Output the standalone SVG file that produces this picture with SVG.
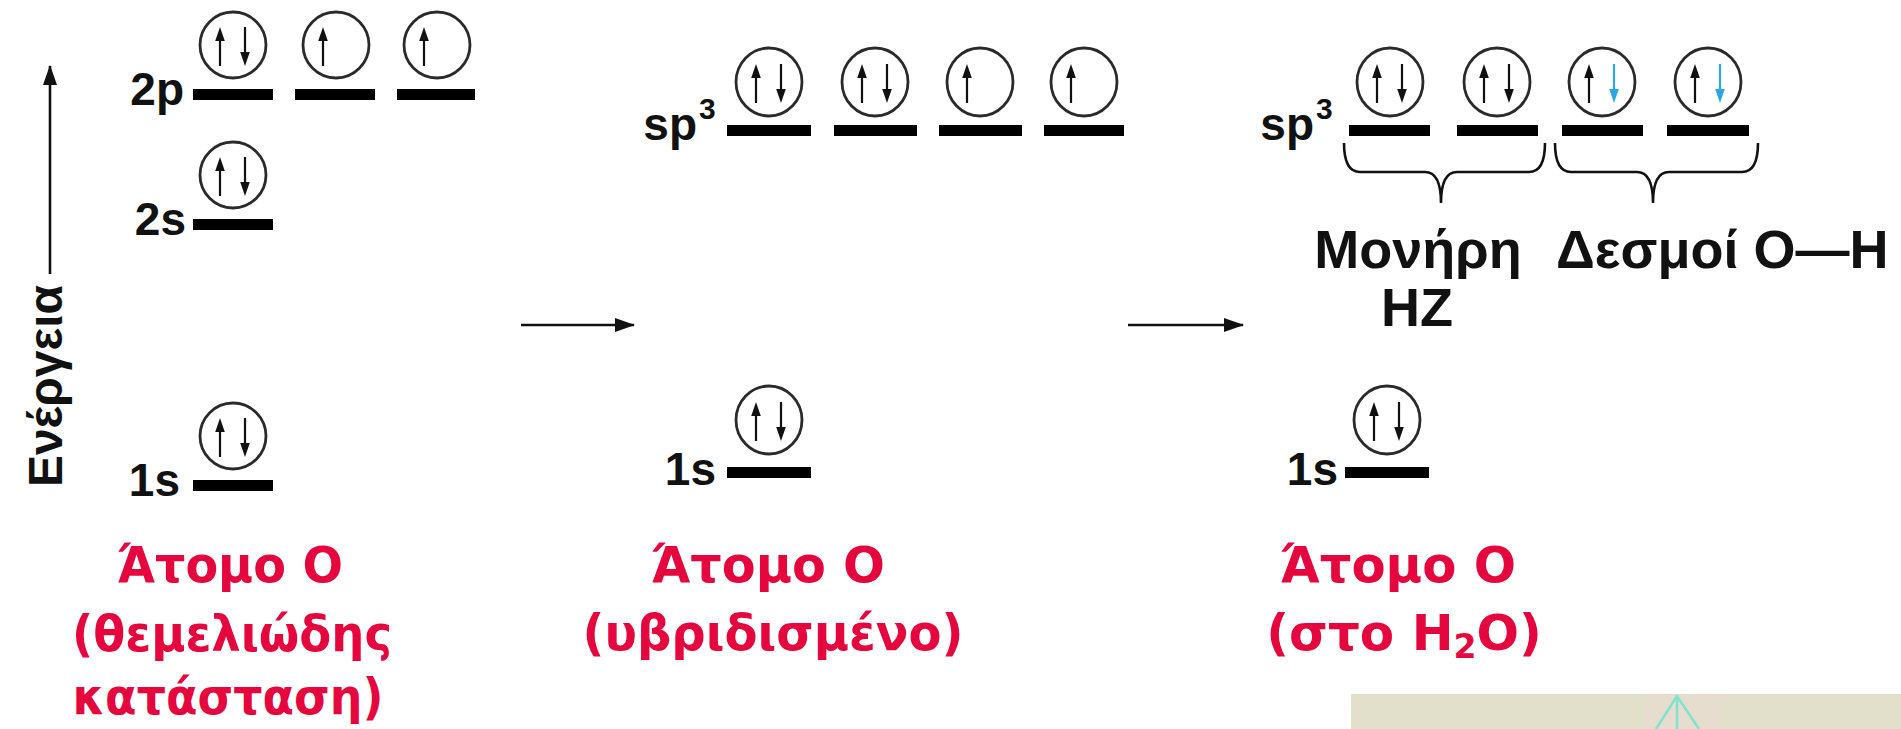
<svg xmlns="http://www.w3.org/2000/svg" xmlns:xlink="http://www.w3.org/1999/xlink" width="1901" height="729" viewBox="0 0 1901 729">
  <style>
    .lbl { font-family: "Liberation Sans", Arial, sans-serif; font-weight: bold; fill: #111; }
    .red { font-family: "DejaVu Sans", "Liberation Sans", sans-serif; font-weight: bold; fill: #E6063E; text-anchor: middle; }
    .orb { fill: none; stroke: #2a2a2a; stroke-width: 2.8; }
    .lvl { fill: #000; }
    .brace { fill: none; stroke: #111; stroke-width: 2.6; }
    .flow { stroke: #111; stroke-width: 2.6; fill: none; }
  </style>
  <defs>
    <marker id="tip" viewBox="0 0 20 14" refX="19" refY="7" markerWidth="20" markerHeight="14" orient="auto" markerUnits="userSpaceOnUse">
      <path d="M0,0 L20,7 L0,14 z" fill="#111"/>
    </marker>
    <!-- electron spin arrows, drawn relative to the orbital centre -->
    <g id="up">
      <line x1="0" y1="21" x2="0" y2="-6" stroke="#111" stroke-width="2.2"/>
      <polygon points="0,-18 -4.8,-4 4.8,-4" fill="#111"/>
    </g>
    <g id="down">
      <line x1="0" y1="-18" x2="0" y2="9" stroke="#111" stroke-width="2.2"/>
      <polygon points="0,21 -4.8,7 4.8,7" fill="#111"/>
    </g>
    <g id="downBlue">
      <line x1="0" y1="-18" x2="0" y2="9" stroke="#2AA7E0" stroke-width="2.2"/>
      <polygon points="0,21 -4.8,7 4.8,7" fill="#2AA7E0"/>
    </g>
  </defs>

  <rect width="1901" height="729" fill="#fff"/>

  <!-- energy axis -->
  <g id="energy-axis">
    <line class="flow" x1="50" y1="274" x2="50" y2="66" marker-end="url(#tip)"/>
    <text class="lbl" font-size="48" text-anchor="middle" textLength="202" lengthAdjust="spacingAndGlyphs" transform="translate(62,386) rotate(-90)">Ενέργεια</text>
  </g>

  <!-- ground-state oxygen -->
  <g id="ground-2p">
    <text class="lbl" x="184" y="105" font-size="46" text-anchor="end">2p</text>
    <rect class="lvl" x="193" y="89" width="80" height="11"/>
    <rect class="lvl" x="295" y="89" width="80" height="11"/>
    <rect class="lvl" x="397" y="89" width="78" height="11"/>
    <circle class="orb" cx="233" cy="45" r="33"/>
    <circle class="orb" cx="336" cy="45" r="33"/>
    <circle class="orb" cx="437" cy="45" r="33"/>
    <use href="#up" x="220" y="45"/><use href="#down" x="245" y="45"/>
    <use href="#up" x="323" y="45"/>
    <use href="#up" x="424" y="45"/>
  </g>
  <g id="ground-2s">
    <text class="lbl" x="186" y="235" font-size="46" text-anchor="end">2s</text>
    <rect class="lvl" x="193" y="219" width="80" height="11"/>
    <circle class="orb" cx="233" cy="175" r="33"/>
    <use href="#up" x="220" y="175"/><use href="#down" x="245" y="175"/>
  </g>
  <g id="ground-1s">
    <text class="lbl" x="180" y="496" font-size="46" text-anchor="end">1s</text>
    <rect class="lvl" x="193" y="480" width="80" height="11"/>
    <circle class="orb" cx="233" cy="436" r="33"/>
    <use href="#up" x="220" y="436"/><use href="#down" x="245" y="436"/>
  </g>
  <g id="ground-caption">
    <text class="red" x="230" y="582" font-size="50" textLength="226" lengthAdjust="spacingAndGlyphs">Άτομο Ο</text>
    <text class="red" x="232" y="651" font-size="50" textLength="320" lengthAdjust="spacingAndGlyphs">(θεμελιώδης</text>
    <text class="red" x="228" y="714" font-size="50" textLength="311" lengthAdjust="spacingAndGlyphs">κατάσταση)</text>
  </g>

  <!-- hybridised oxygen -->
  <g id="hybrid-sp3">
    <text class="lbl" x="697" y="140" font-size="46" text-anchor="end">sp</text>
    <text class="lbl" x="699" y="119" font-size="30">3</text>
    <rect class="lvl" x="727" y="125" width="84" height="11"/>
    <rect class="lvl" x="834" y="125" width="83" height="11"/>
    <rect class="lvl" x="939" y="125" width="83" height="11"/>
    <rect class="lvl" x="1044" y="125" width="80" height="11"/>
    <ellipse class="orb" cx="769" cy="82" rx="33" ry="34"/>
    <ellipse class="orb" cx="875" cy="82" rx="33" ry="34"/>
    <ellipse class="orb" cx="980" cy="82" rx="33" ry="34"/>
    <ellipse class="orb" cx="1084" cy="82" rx="33" ry="34"/>
    <use href="#up" x="756" y="82"/><use href="#down" x="781" y="82"/>
    <use href="#up" x="862" y="82"/><use href="#down" x="887" y="82"/>
    <use href="#up" x="967" y="82"/>
    <use href="#up" x="1071" y="82"/>
  </g>
  <g id="hybrid-1s">
    <text class="lbl" x="716" y="485" font-size="46" text-anchor="end">1s</text>
    <rect class="lvl" x="727" y="467" width="84" height="11"/>
    <ellipse class="orb" cx="769" cy="420" rx="33" ry="34"/>
    <use href="#up" x="756" y="420"/><use href="#down" x="781" y="420"/>
  </g>
  <g id="hybrid-caption">
    <text class="red" x="768" y="582" font-size="50" textLength="234" lengthAdjust="spacingAndGlyphs">Άτομο Ο</text>
    <text class="red" x="773" y="650" font-size="50" textLength="381" lengthAdjust="spacingAndGlyphs">(υβριδισμένο)</text>
  </g>

  <!-- oxygen in water -->
  <g id="water-sp3">
    <text class="lbl" x="1314" y="140" font-size="46" text-anchor="end">sp</text>
    <text class="lbl" x="1316" y="119" font-size="30">3</text>
    <rect class="lvl" x="1349" y="125" width="81" height="11"/>
    <rect class="lvl" x="1457" y="125" width="81" height="11"/>
    <rect class="lvl" x="1562" y="125" width="81" height="11"/>
    <rect class="lvl" x="1667" y="125" width="82" height="11"/>
    <ellipse class="orb" cx="1390" cy="82" rx="33" ry="34"/>
    <ellipse class="orb" cx="1497" cy="82" rx="33" ry="34"/>
    <ellipse class="orb" cx="1602" cy="82" rx="33" ry="34"/>
    <ellipse class="orb" cx="1708" cy="82" rx="33" ry="34"/>
    <use href="#up" x="1377" y="82"/><use href="#down" x="1402" y="82"/>
    <use href="#up" x="1484" y="82"/><use href="#down" x="1509" y="82"/>
    <use href="#up" x="1589" y="82"/><use href="#downBlue" x="1614" y="82"/>
    <use href="#up" x="1695" y="82"/><use href="#downBlue" x="1720" y="82"/>
  </g>
  <g id="lone-pairs">
    <path class="brace" d="M1344,143 Q1344,172 1360,172 L1425,172 Q1441,172 1441,203 Q1441,172 1457,172 L1529,172 Q1545,172 1545,143"/>
    <text class="lbl" x="1418" y="268" font-size="54" text-anchor="middle">Μονήρη</text>
    <text class="lbl" x="1417" y="326" font-size="54" text-anchor="middle">HZ</text>
  </g>
  <g id="oh-bonds">
    <path class="brace" d="M1555,143 Q1555,172 1571,172 L1637,172 Q1653,172 1653,203 Q1653,172 1669,172 L1742,172 Q1758,172 1758,143"/>
    <text class="lbl" x="1556" y="268" font-size="54">Δεσμοί O—H</text>
  </g>
  <g id="water-1s">
    <text class="lbl" x="1338" y="485" font-size="46" text-anchor="end">1s</text>
    <rect class="lvl" x="1345" y="467" width="84" height="11"/>
    <ellipse class="orb" cx="1387" cy="420" rx="33" ry="34"/>
    <use href="#up" x="1374" y="420"/><use href="#down" x="1399" y="420"/>
  </g>
  <g id="water-caption">
    <text class="red" x="1398" y="582" font-size="50" textLength="236" lengthAdjust="spacingAndGlyphs">Άτομο Ο</text>
    <text class="red" x="1404" y="650" font-size="50">(στο H<tspan font-size="33" dy="8">2</tspan><tspan dy="-8">O)</tspan></text>
  </g>

  <!-- transitions between the three states -->
  <g id="connectors">
    <line class="flow" x1="521" y1="325" x2="634" y2="325" marker-end="url(#tip)"/>
    <line class="flow" x1="1128" y1="325" x2="1243" y2="325" marker-end="url(#tip)"/>
  </g>

  <!-- partial panel at the lower right edge -->
  <g id="corner-panel">
    <rect x="1351" y="694" width="550" height="35" fill="#E2E0CA"/>
    <rect x="1645" y="694" width="78" height="35" fill="#E9DCD2" opacity="0.7"/>
    <path d="M1656,729 L1677,696 L1699,729 M1677,696 L1677,729" fill="none" stroke="#7FE3CF" stroke-width="2.5"/>
  </g>
</svg>
